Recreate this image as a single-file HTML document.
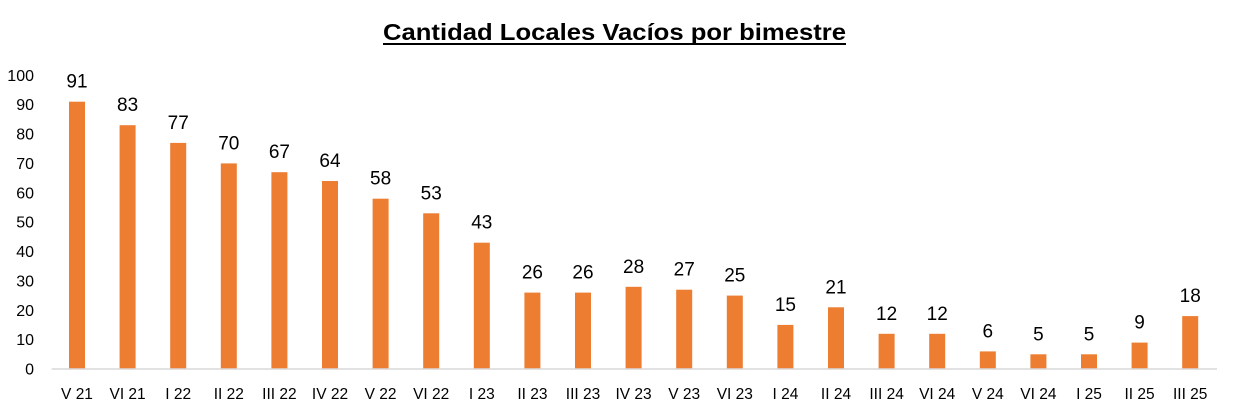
<!DOCTYPE html>
<html><head><meta charset="utf-8"><style>body{margin:0;background:#fff}svg{display:block}</style></head>
<body>
<svg width="1233" height="412" xmlns="http://www.w3.org/2000/svg" font-family="Liberation Sans, sans-serif">
<text x="383" y="40" font-size="23" font-weight="bold" textLength="463" lengthAdjust="spacingAndGlyphs" fill="#000">Cantidad Locales Vacíos por bimestre</text>
<line x1="383" y1="44" x2="846" y2="44" stroke="#000" stroke-width="2"/>
<g font-size="16" text-anchor="end" fill="#000">
<text x="34" y="374.5">0</text><text x="34" y="345.1">10</text><text x="34" y="315.8">20</text><text x="34" y="286.4">30</text><text x="34" y="257">40</text><text x="34" y="227.7">50</text><text x="34" y="198.3">60</text><text x="34" y="168.9">70</text><text x="34" y="139.5">80</text><text x="34" y="110.2">90</text><text x="34" y="80.8">100</text>
</g>
<g fill="#ed7d31">
<rect x="69" y="101.7" width="16" height="267.3"/>
<rect x="119.6" y="125.2" width="16" height="243.8"/>
<rect x="170.2" y="142.9" width="16" height="226.1"/>
<rect x="220.8" y="163.4" width="16" height="205.6"/>
<rect x="271.4" y="172.2" width="16" height="196.8"/>
<rect x="322" y="181" width="16" height="188"/>
<rect x="372.6" y="198.7" width="16" height="170.3"/>
<rect x="423.2" y="213.3" width="16" height="155.7"/>
<rect x="473.8" y="242.7" width="16" height="126.3"/>
<rect x="524.4" y="292.6" width="16" height="76.4"/>
<rect x="575" y="292.6" width="16" height="76.4"/>
<rect x="625.6" y="286.8" width="16" height="82.2"/>
<rect x="676.2" y="289.7" width="16" height="79.3"/>
<rect x="726.8" y="295.6" width="16" height="73.4"/>
<rect x="777.4" y="324.9" width="16" height="44.1"/>
<rect x="828" y="307.3" width="16" height="61.7"/>
<rect x="878.6" y="333.8" width="16" height="35.2"/>
<rect x="929.2" y="333.8" width="16" height="35.2"/>
<rect x="979.8" y="351.4" width="16" height="17.6"/>
<rect x="1030.4" y="354.3" width="16" height="14.7"/>
<rect x="1081" y="354.3" width="16" height="14.7"/>
<rect x="1131.6" y="342.6" width="16" height="26.4"/>
<rect x="1182.2" y="316.1" width="16" height="52.9"/>
</g>
<line x1="51.7" y1="369" x2="1217" y2="369" stroke="#d9d9d9" stroke-width="1.5"/>
<g font-size="19" text-anchor="middle" fill="#000" transform="translate(0,-5)">
<text x="77" y="92.7">91</text>
<text x="127.6" y="116.2">83</text>
<text x="178.2" y="133.9">77</text>
<text x="228.8" y="154.4">70</text>
<text x="279.4" y="163.2">67</text>
<text x="330" y="172">64</text>
<text x="380.6" y="189.7">58</text>
<text x="431.2" y="204.3">53</text>
<text x="481.8" y="233.7">43</text>
<text x="532.4" y="283.6">26</text>
<text x="583" y="283.6">26</text>
<text x="633.6" y="277.8">28</text>
<text x="684.2" y="280.7">27</text>
<text x="734.8" y="286.6">25</text>
<text x="785.4" y="315.9">15</text>
<text x="836" y="298.3">21</text>
<text x="886.6" y="324.8">12</text>
<text x="937.2" y="324.8">12</text>
<text x="987.8" y="342.4">6</text>
<text x="1038.4" y="345.3">5</text>
<text x="1089" y="345.3">5</text>
<text x="1139.6" y="333.6">9</text>
<text x="1190.2" y="307.1">18</text>
</g>
<g font-size="15.5" text-anchor="middle" fill="#000">
<text x="77" y="399">V 21</text>
<text x="127.6" y="399">VI 21</text>
<text x="178.2" y="399">I 22</text>
<text x="228.8" y="399">II 22</text>
<text x="279.4" y="399">III 22</text>
<text x="330" y="399">IV 22</text>
<text x="380.6" y="399">V 22</text>
<text x="431.2" y="399">VI 22</text>
<text x="481.8" y="399">I 23</text>
<text x="532.4" y="399">II 23</text>
<text x="583" y="399">III 23</text>
<text x="633.6" y="399">IV 23</text>
<text x="684.2" y="399">V 23</text>
<text x="734.8" y="399">VI 23</text>
<text x="785.4" y="399">I 24</text>
<text x="836" y="399">II 24</text>
<text x="886.6" y="399">III 24</text>
<text x="937.2" y="399">VI 24</text>
<text x="987.8" y="399">V 24</text>
<text x="1038.4" y="399">VI 24</text>
<text x="1089" y="399">I 25</text>
<text x="1139.6" y="399">II 25</text>
<text x="1190.2" y="399">III 25</text>
</g>
</svg>
</body></html>
